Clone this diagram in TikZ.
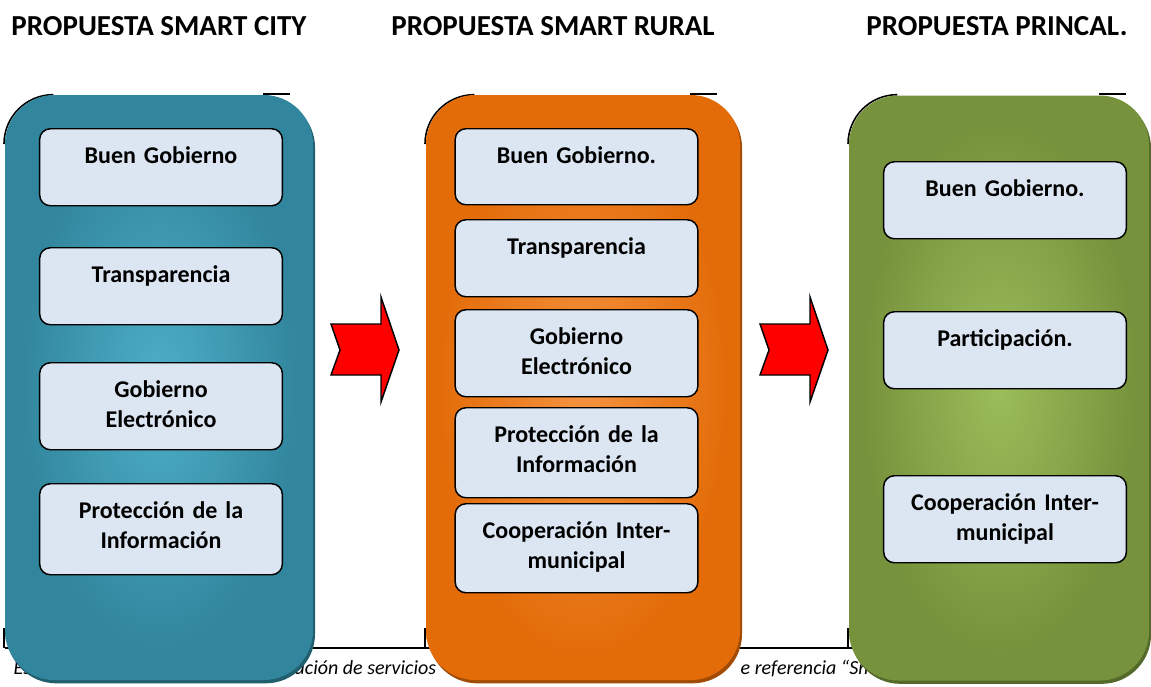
\documentclass[tikz,border=0pt]{standalone}
\usepackage{fontspec}
\setmainfont{Carlito}
\usetikzlibrary{shadows}
\definecolor{cityteal}{HTML}{31859C}
\definecolor{cityglow}{HTML}{4DAFC8}
\definecolor{cityshade}{HTML}{215E6E}
\definecolor{ruralorange}{HTML}{E36C09}
\definecolor{ruralglow}{HTML}{F5923F}
\definecolor{ruralshade}{HTML}{A04C06}
\definecolor{princgreen}{HTML}{76923C}
\definecolor{princglow}{HTML}{9CBD5A}
\definecolor{princshade}{HTML}{546A2A}
\definecolor{itemfill}{HTML}{DCE6F2}
\pgfdeclareradialshading{cityshading}{\pgfpoint{0bp}{0bp}}{color(0bp)=(cityglow); color(23bp)=(cityteal); color(50bp)=(cityteal)}
\pgfdeclareradialshading{ruralshading}{\pgfpoint{0bp}{0bp}}{color(0bp)=(ruralglow); color(23bp)=(ruralorange); color(50bp)=(ruralorange)}
\pgfdeclareradialshading{princshading}{\pgfpoint{0bp}{0bp}}{color(0bp)=(princglow); color(23bp)=(princgreen); color(50bp)=(princgreen)}
\tikzset{
  panel/.style={rounded corners=37pt,minimum width=#1,minimum height=438.75pt,inner sep=0pt},
  itembox/.style={draw=black,line width=1.1pt,fill=itemfill,rounded corners=8pt,anchor=north,
    text width=170pt,inner xsep=6pt,inner ysep=0pt,align=center,text height=26.25pt,text depth=#1,
    font=\fontsize{18}{22.5}\selectfont\bfseries},
  heading/.style={anchor=base,font=\fontsize{21.75}{26}\selectfont\bfseries},
  source/.style={anchor=base west,font=\fontsize{15}{18}\selectfont\itshape},
  notch/.style={fill=red,draw=black,line width=1.1pt,line join=miter},
  rim/.style={black,line width=1.2pt}
}
\begin{document}
\begin{tikzpicture}[x=0.75pt,y=-0.75pt]
  \useasboundingbox (0,0) rectangle (1151,686);
  % source line, mostly hidden behind the panels
  \draw[line width=1.4pt] (5,648) -- (860,648);
  \node[source] (src1) at (9,674) {Es};
  \node[source] (src2) at (290,674) {ación de servicios};
  \node[source] (src3) at (736,674) {e referencia “Sm};
  % dark rims peeking out at the corners
  \foreach \xa/\xb in {5/313,426/740,849/1149}{
    \draw[rim] (\xa-1,144) arc[start angle=180,end angle=90,radius=37pt];
    \draw[rim] (\xb-50,94) -- (\xb-23,94);
    \draw[rim] (\xa-1,628) -- (\xa-1,648);
  }
  % panels
  \node[panel=231pt,shading=cityshading,
    general shadow={fill=cityshade,shadow xshift=1.5pt,shadow yshift=-2.5pt}] (city) at (159,387.5) {};
  \node[panel=235.5pt,shading=ruralshading,
    general shadow={fill=ruralshade,shadow xshift=1.5pt,shadow yshift=-2.5pt}] (rural) at (583,387.5) {};
  \node[panel=225pt,shading=princshading,
    general shadow={fill=princshade,shadow xshift=1.5pt,shadow yshift=-2.5pt}] (princal) at (999,388) {};
  % headings
  \node[heading] (hcity) at (159,35) {PROPUESTA SMART CITY};
  \node[heading] (hrural) at (553,35) {PROPUESTA SMART RURAL};
  \node[heading] (hprinc) at (997,35) {PROPUESTA PRINCAL.};
  % smart city
  \node[itembox=31.5pt] (city1) at (161,128) {Buen Gobierno};
  \node[itembox=31.5pt] (city2) at (161,247) {Transparencia};
  \node[itembox=39pt] (city3) at (161,362) {Gobierno\\Electrónico};
  \node[itembox=42pt] (city4) at (161,483) {Protección de la\\Información};
  % smart rural
  \node[itembox=30.75pt] (rural1) at (576.5,128) {Buen Gobierno.};
  \node[itembox=31.5pt] (rural2) at (576.5,219) {Transparencia};
  \node[itembox=39pt] (rural3) at (576.5,309) {Gobierno\\Electrónico};
  \node[itembox=41.25pt] (rural4) at (576.5,407) {Protección de la\\Información};
  \node[itembox=40.5pt] (rural5) at (576.5,503) {Cooperación Inter-\\municipal};
  % princal
  \node[itembox=31.5pt] (princ1) at (1005,161) {Buen Gobierno.};
  \node[itembox=31.5pt] (princ2) at (1005,311) {Participación.};
  \node[itembox=39pt] (princ3) at (1005,475) {Cooperación Inter-\\municipal};
  % notched arrows between the panels
  \foreach \dx in {0,429}
    \draw[notch,shift={(\dx,0)}] (331,324) -- (381,324) -- (381,297) -- (399,350)
      -- (381,402) -- (381,375) -- (331,375) -- (340,350) -- cycle;
\end{tikzpicture}
\end{document}
